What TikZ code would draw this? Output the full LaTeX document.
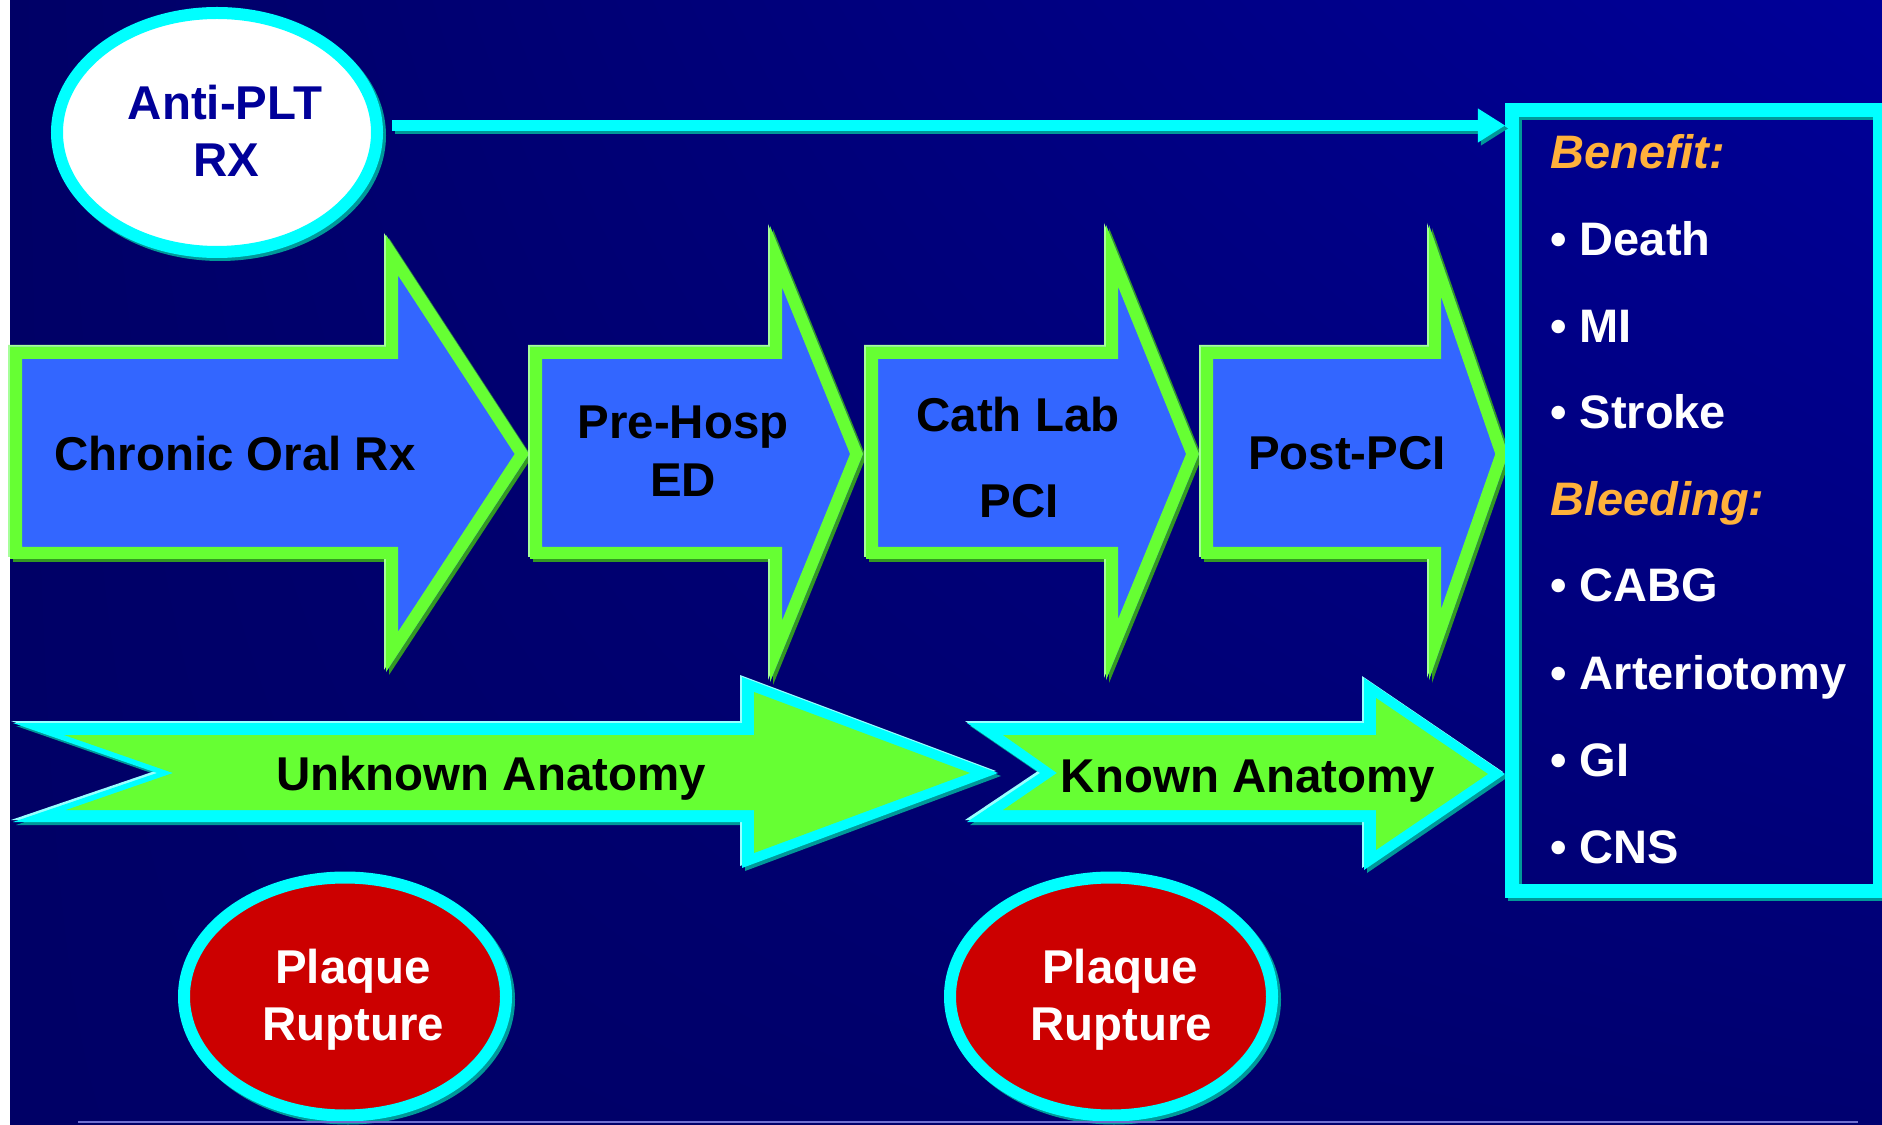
\documentclass[tikz,border=0pt]{standalone}
\usepackage{fontspec}
\setmainfont{Liberation Sans}
\usetikzlibrary{shapes.geometric,arrows.meta,shadings}
\newdimen\pxu \pxu=0.569pt
\definecolor{cyanC}{HTML}{00FFFF}
\definecolor{cyanSh}{HTML}{009999}
\definecolor{cyanHi}{HTML}{99FFFF}
\definecolor{greenC}{HTML}{66FF33}
\definecolor{greenSh}{HTML}{339922}
\definecolor{greenHi}{HTML}{A6FF99}
\definecolor{blueF}{HTML}{3366FF}
\definecolor{redF}{HTML}{CC0000}
\definecolor{navyT}{HTML}{000099}
\definecolor{orangeT}{HTML}{FFB13B}
\definecolor{bgA}{HTML}{000066}
\definecolor{bgB}{HTML}{000099}
\definecolor{bgC}{HTML}{000070}
\definecolor{lineL}{HTML}{6F6FD0}
% block arrow: inner border drawn by clipping a doubled stroke
\newcommand\blockshape[6]{%
  \fill[#2, shift={(3,3)}] #6;
  \fill[#1, shift={(-2,-2)}] #6;
  \fill[#3] #6;
  \begin{scope}\clip #6;\draw[#4, line width={2*#5*\pxu}, line join=miter] #6;\end{scope}}
% block arrow: outer outline and inner fill given explicitly
\newcommand\blockshapeB[6]{%
  \fill[#2, shift={(3,3)}] #5;
  \fill[#1, shift={(-2,-2)}] #5;
  \fill[#4] #5;
  \fill[#3] #6;}
\begin{document}
\begin{tikzpicture}[x=0.569pt, y=-0.569pt,
  lbl/.style={font=\fontsize{27.0}{32}\selectfont\bfseries, inner sep=0, anchor=base},
  bul/.style={font=\fontsize{26.74}{32}\selectfont\bfseries, text=white, inner sep=0, anchor=base west},
  hd/.style={font=\fontsize{26.74}{32}\selectfont\bfseries\itshape, text=orangeT, inner sep=0, anchor=base west},
  ring/.style={ellipse, draw=cyanC, line width={12*\pxu}, inner sep=0}]
\useasboundingbox (0,0) rectangle (1882,1125);
% background
\shade[upper left=bgA, upper right=bgB, lower left=bgA, lower right=bgC] (10,0) rectangle (1882,1125);
\fill[white] (0,0) rectangle (10,1125);
% Anti-PLT ellipse
\fill[cyanSh] (220,135.5) ellipse [x radius=166, y radius=125.5];
\node[ring, fill=white, minimum width={320*\pxu}, minimum height={239*\pxu}] (anti) at (217,132.5) {};
\node[lbl, text=navyT] (antiA) at (225,120) {Anti-PLT};
\node[lbl, text=navyT] (antiB) at (226,177) {RX};
% blue arrows
\blockshape{greenHi}{greenSh}{blueF}{greenC}{12}{(10,347) -- (386,347) -- (386,235) -- (529,454) -- (386,672) -- (386,559) -- (10,559) -- cycle}
\blockshape{greenHi}{greenSh}{blueF}{greenC}{12}{(530,347) -- (770,347) -- (770,226) -- (863,454) -- (770,682) -- (770,559) -- (530,559) -- cycle}
\blockshape{greenHi}{greenSh}{blueF}{greenC}{12}{(866,347) -- (1106,347) -- (1106,225) -- (1199,454) -- (1106,680) -- (1106,559) -- (866,559) -- cycle}
\blockshape{greenHi}{greenSh}{blueF}{greenC}{12}{(1201,347) -- (1429,347) -- (1429,225) -- (1508,454) -- (1429,680) -- (1429,559) -- (1201,559) -- cycle}
% green arrows
\blockshapeB{cyanHi}{cyanSh}{greenC}{cyanC}%
  {(13,723) -- (742,723) -- (742,677) -- (998,773) -- (742,868) -- (742,822) -- (13,822) -- (157,773) -- cycle}%
  {(64,735) -- (754,735) -- (754,692) -- (970,773) -- (754,853) -- (754,810) -- (66,810) -- (173,773) -- cycle}
\blockshapeB{cyanHi}{cyanSh}{greenC}{cyanC}%
  {(967,723) -- (1364,723) -- (1364,678) -- (1505,774) -- (1364,870) -- (1364,822) -- (967,822) -- (1040,773) -- cycle}%
  {(1003,735) -- (1376,735) -- (1376,698) -- (1488,774) -- (1376,850) -- (1376,810) -- (1003,810) -- (1057,773) -- cycle}
% benefit box
\draw[cyanSh, line width={14*\pxu}] (1515,113) rectangle (1883,894);
\node[draw=cyanC, line width={14*\pxu}, minimum width={368*\pxu}, minimum height={781*\pxu}, inner sep=0] (box) at (1696,500.5) {};
% connector
\coordinate (ls) at (392,125.5);
\coordinate (lss) at (395,128.5);
\coordinate (bws) at ([shift={(3,3)}]box.west);
\draw[cyanSh, line width={11*\pxu}, -{Triangle[length=15.4pt, width=19.4pt, line width=0pt]}] (lss) -- (lss -| bws);
\draw[cyanC, line width={11*\pxu}, -{Triangle[length=15.4pt, width=19.4pt, line width=0pt]}] (ls) -- (ls -| box.west);
% arrow texts
\node[lbl] (t1) at (235,471) {Chronic Oral Rx};
\node[lbl] (t2a) at (683,439) {Pre-Hosp};
\node[lbl] (t2b) at (683,497) {ED};
\node[lbl] (t3a) at (1018,432) {Cath Lab};
\node[lbl] (t3b) at (1019,518) {PCI};
\node[lbl] (t4) at (1347,470) {Post-PCI};
\node[lbl] (g1t) at (491,790) {Unknown Anatomy};
\node[lbl] (g2t) at (1248,792) {Known Anatomy};
% box texts
\node[hd] (benefit) at (1550,169) {Benefit:};
\node[bul] (b1) at (1550,256) {• Death};
\node[bul] (b2) at (1550,343) {• MI};
\node[bul] (b3) at (1550,429) {• Stroke};
\node[hd] (bleeding) at (1550,516) {Bleeding:};
\node[bul] (b4) at (1550,602) {• CABG};
\node[bul] (b5) at (1550,689) {• Arteriotomy};
\node[bul] (b6) at (1550,776) {• GI};
\node[bul] (b7) at (1550,863) {• CNS};
% plaque ellipses
\fill[cyanSh] (348,999.5) ellipse [x radius=167, y radius=125];
\node[ring, fill=redF, minimum width={322*\pxu}, minimum height={238*\pxu}] (pr1) at (345,996.5) {};
\node[lbl, text=white] (pr1a) at (353,983) {Plaque};
\node[lbl, text=white] (pr1b) at (353,1040) {Rupture};
\fill[cyanSh] (1114,999.5) ellipse [x radius=167, y radius=125];
\node[ring, fill=redF, minimum width={322*\pxu}, minimum height={238*\pxu}] (pr2) at (1111,996.5) {};
\node[lbl, text=white] (pr2a) at (1120,983) {Plaque};
\node[lbl, text=white] (pr2b) at (1121,1040) {Rupture};
% bottom rule
\coordinate (rl) at (78,1122);
\coordinate (rr) at (1858,1122);
\draw[lineL, line width={2.5*\pxu}] (rl) -- (rr);
\end{tikzpicture}
\end{document}
